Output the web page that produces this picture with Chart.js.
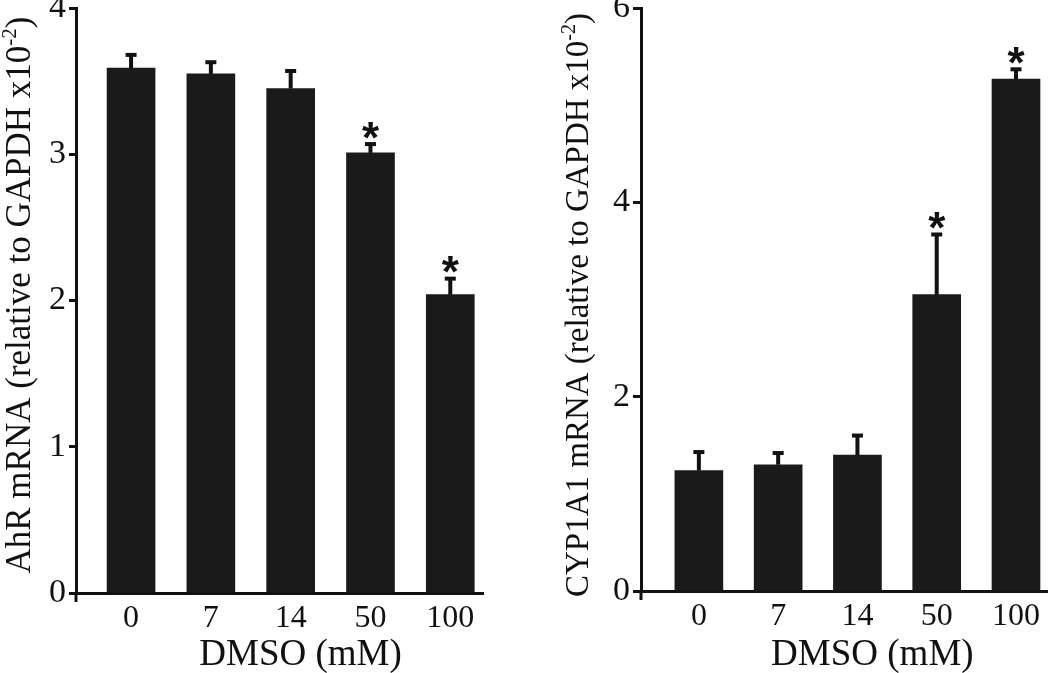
<!DOCTYPE html>
<html>
<head>
<meta charset="utf-8">
<script src="https://cdn.jsdelivr.net/npm/chart.js@4.4.1/dist/chart.umd.min.js"></script>
<style>
html,body{margin:0;padding:0;background:#fff;}
#wrap{position:relative;width:1050px;height:673px;overflow:hidden;background:#fff;}
canvas{position:absolute;top:0;}
</style>
</head>
<body>
<div id="wrap">
<canvas id="c1" width="525" height="673" style="left:0px"></canvas>
<canvas id="c2" width="525" height="673" style="left:525px"></canvas>
</div>
<script>
// ---- data ----
const categories = ['0', '7', '14', '50', '100'];
const xAxisTitle = 'DMSO (mM)';

const ahrValues = [3.59, 3.55, 3.45, 3.01, 2.04];
const ahrErrors = [0.09, 0.08, 0.12, 0.06, 0.11];
const ahrSignificant = [false, false, false, true, true];
const ahrTicks = [0, 1, 2, 3, 4];
const ahrTitle = ['AhR mRNA (relative to GAPDH x10', '-2', ')'];

const cypValues = [1.24, 1.30, 1.40, 3.05, 5.27];
const cypErrors = [0.19, 0.12, 0.20, 0.62, 0.10];
const cypSignificant = [false, false, false, true, true];
const cypTicks = [0, 2, 4, 6];
const cypTitle = ['CYP1A1 mRNA (relative to GAPDH x10', '-2', ')'];

// ---- styles ----
const INK = '#111111';
const BAR = '#1a1a1a';
const SERIF = '"Liberation Serif", "Times New Roman", serif';

const errorBarPlugin = {
  id: 'errorBars',
  afterDatasetsDraw(chart, args, o) {
    const ctx = chart.ctx;
    const meta = chart.getDatasetMeta(0);
    const ys = chart.scales.y;
    const data = chart.data.datasets[0].data;
    ctx.save();
    ctx.strokeStyle = INK;
    ctx.fillStyle = INK;
    meta.data.forEach((bar, i) => {
      const v = data[i].y;
      const capY = ys.getPixelForValue(v + o.errors[i]);
      ctx.lineWidth = o.stemWidth;
      ctx.beginPath();
      ctx.moveTo(bar.x, bar.y);
      ctx.lineTo(bar.x, capY);
      ctx.stroke();
      ctx.fillRect(bar.x - o.capWidth / 2, capY - o.capThickness / 2, o.capWidth, o.capThickness);
      if (o.significant[i]) {
        ctx.font = o.starFont;
        ctx.textAlign = 'center';
        ctx.textBaseline = 'alphabetic';
        const m = ctx.measureText('*');
        const cy = capY - o.capThickness / 2 - o.starGap;
        const base = cy + (m.actualBoundingBoxAscent - m.actualBoundingBoxDescent) / 2;
        ctx.fillText('*', bar.x, base);
      }
    });
    ctx.restore();
  }
};

const axisTitlePlugin = {
  id: 'axisTitles',
  afterDraw(chart, args, o) {
    const ctx = chart.ctx;
    const a = chart.chartArea;
    ctx.save();
    // small overshoot of the y axis below the x axis
    ctx.strokeStyle = INK;
    ctx.lineWidth = 3;
    ctx.beginPath();
    ctx.moveTo(a.left, a.bottom);
    ctx.lineTo(a.left, a.bottom + o.axisOvershoot);
    ctx.stroke();
    ctx.restore();

    // y title (rotated, with superscript)
    ctx.save();
    ctx.fillStyle = INK;
    ctx.textBaseline = 'alphabetic';
    ctx.textAlign = 'left';
    const big = o.yFontSize + 'px ' + SERIF;
    const small = Math.round(o.yFontSize * 0.6) + 'px ' + SERIF;
    const parts = [
      {t: o.yText[0], f: big, dy: 0},
      {t: o.yText[1], f: small, dy: -o.yFontSize * 0.4},
      {t: o.yText[2], f: big, dy: 0}
    ];
    let total = 0;
    parts.forEach(p => { ctx.font = p.f; p.w = ctx.measureText(p.t).width; total += p.w; });
    ctx.translate(a.left - o.yBaselineOffset, o.yCenter);
    ctx.rotate(-Math.PI / 2);
    let u = -total / 2;
    parts.forEach(p => { ctx.font = p.f; ctx.fillText(p.t, u, p.dy); u += p.w; });
    ctx.restore();

    // x title
    ctx.save();
    ctx.fillStyle = INK;
    ctx.font = o.xFontSize + 'px ' + SERIF;
    ctx.textAlign = 'center';
    ctx.textBaseline = 'alphabetic';
    ctx.fillText(xAxisTitle, (a.left + a.right) / 2 + o.xShift, o.xBaseline);
    ctx.restore();
  }
};

function makeChart(id, values, errors, significant, yTicks, title, cfg) {
  return new Chart(document.getElementById(id), {
    type: 'bar',
    data: {
      datasets: [{
        data: values.map((v, i) => ({x: i, y: v})),
        backgroundColor: BAR,
        borderWidth: 0,
        barThickness: 48
      }]
    },
    options: {
      responsive: false,
      animation: false,
      devicePixelRatio: 1,
      layout: {padding: {top: cfg.padTop, right: cfg.padRight, bottom: 0, left: 0}},
      plugins: {
        legend: {display: false},
        tooltip: {enabled: false},
        errorBars: {
          errors: errors, significant: significant,
          stemWidth: 4, capWidth: 11, capThickness: 4, starGap: 12,
          starFont: 'bold 44px "Liberation Sans", Arial, sans-serif'
        },
        axisTitles: {
          yText: title, yFontSize: cfg.yFont, yCenter: cfg.yCenter, yBaselineOffset: cfg.yBase,
          xFontSize: 37, xBaseline: 665, xShift: cfg.xShift, axisOvershoot: 9
        }
      },
      scales: {
        x: {
          type: 'linear',
          offset: false,
          min: cfg.xMin,
          max: cfg.xMax,
          grid: {display: false, drawTicks: false, offset: false},
          border: {display: true, color: INK, width: 3},
          afterBuildTicks: s => { s.ticks = categories.map((c, i) => ({value: i})); },
          afterFit: s => { s.height = cfg.xHeight; },
          ticks: {
            callback: v => categories[v],
            font: {family: SERIF, size: 32, lineHeight: 1},
            color: INK, padding: 10, maxRotation: 0, autoSkip: false
          }
        },
        y: {
          min: 0,
          max: yTicks[yTicks.length - 1],
          afterBuildTicks: s => { s.ticks = yTicks.map(v => ({value: v})); },
          afterFit: s => { s.width = cfg.yWidth; },
          grid: {drawOnChartArea: false, drawTicks: true, tickLength: cfg.tickLen, tickWidth: 3, tickColor: INK},
          border: {display: true, color: INK, width: 3},
          ticks: {font: {family: SERIF, size: 34, lineHeight: 0.3}, color: INK, padding: 3}
        }
      }
    },
    plugins: [errorBarPlugin, axisTitlePlugin]
  });
}

makeChart('c1', ahrValues, ahrErrors, ahrSignificant, ahrTicks, ahrTitle, {
  padTop: 6, padRight: 42, xMin: -0.69, xMax: 4.41, xHeight: 80, yWidth: 76, tickLen: 7,
  yFont: 35, yCenter: 295, yBase: 46, xShift: 21
});
makeChart('c2', cypValues, cypErrors, cypSignificant, cypTicks, cypTitle, {
  padTop: 8, padRight: 0, xMin: -0.73, xMax: 4.40, xHeight: 82, yWidth: 116, tickLen: 8,
  yFont: 33, yCenter: 305, yBase: 53, xShift: 28
});
</script>
</body>
</html>
